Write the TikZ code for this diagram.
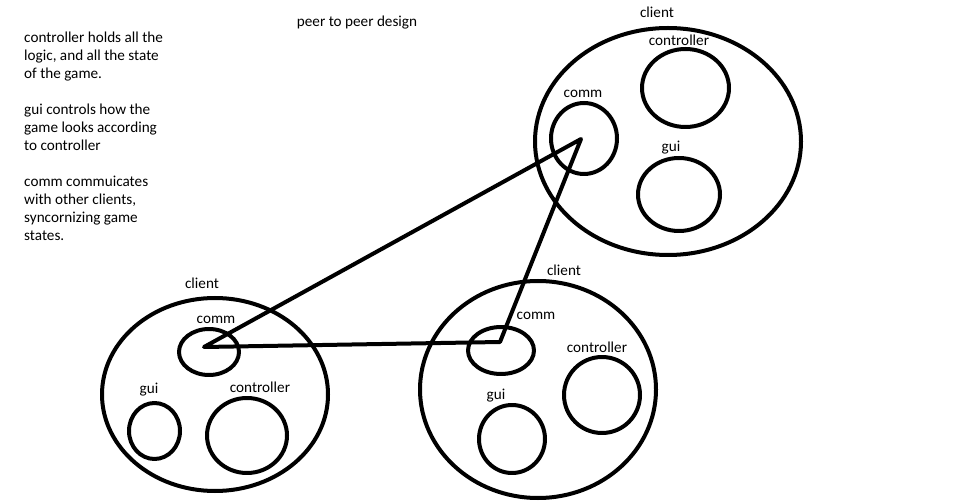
\documentclass[tikz,border=0pt]{standalone}
\usepackage{fontspec}
\setmainfont{Carlito}
\usetikzlibrary{shapes.geometric}

\begin{document}
\begin{tikzpicture}[x=1pt, y=-1pt, line cap=round, line join=round,
    part/.style={draw, ellipse, line width=4pt, inner sep=0pt},
    tag/.style={font=\fontsize{15.2}{18}\selectfont, inner sep=0pt},
    link/.style={line width=4pt}]

    \useasboundingbox (0, 0) rectangle (969, 502);

    % notes
    \node[tag, anchor=north west, align=left] (notes) at (24, 31.5) {controller holds all the\\logic, and all the state\\of the game.\\[18pt]gui controls how the\\game looks according\\to controller\\[18pt]comm commuicates\\with other clients,\\syncornizing game\\states.};
    \node[tag] (title) at (357, 23) {peer to peer design};

    % top right client
    \node[part, minimum width=266, minimum height=227] (clientR) at (668, 141.5) {};
    \node[part, minimum width=87, minimum height=78] (ctrlR) at (685.5, 88) {};
    \node[part, minimum width=82, minimum height=73] (guiR) at (679, 194.5) {};
    \node[part, minimum width=66, minimum height=71] (commR) at (584, 138.5) {};
    \node[tag] at (657, 12) {client};
    \node[tag] at (679, 40) {controller};
    \node[tag] at (671, 148) {gui};
    \node[tag] at (583, 94) {comm};

    % bottom left client
    \node[part, minimum width=226, minimum height=193] (clientL) at (215, 394.5) {};
    \node[part, minimum width=60, minimum height=46] (commL) at (209, 352) {};
    \node[part, minimum width=51, minimum height=56] (guiL) at (154.5, 431) {};
    \node[part, minimum width=80, minimum height=75] (ctrlL) at (247, 435.5) {};
    \node[tag] at (202, 283) {client};
    \node[tag] at (216, 320) {comm};
    \node[tag] at (149, 390) {gui};
    \node[tag] at (260, 387) {controller};

    % bottom right client
    \node[part, minimum width=236, minimum height=217] (clientM) at (538, 389.5) {};
    \node[part, minimum width=66, minimum height=47] (commM) at (501, 350.5) {};
    \node[part, minimum width=66, minimum height=68] (guiM) at (512, 439) {};
    \node[part, minimum width=76, minimum height=76] (ctrlM) at (602, 395) {};
    \node[tag] at (564, 270) {client};
    \node[tag] at (536, 316) {comm};
    \node[tag] at (496, 396) {gui};
    \node[tag] at (597, 347) {controller};

    % links between the comms
    \coordinate (hubR) at (581, 139);
    \coordinate (hubL) at (204, 347);
    \coordinate (hubM) at (500, 342);
    \draw[link] (hubL) -- (hubR) -- (hubM) -- cycle;

\end{tikzpicture}
\end{document}
